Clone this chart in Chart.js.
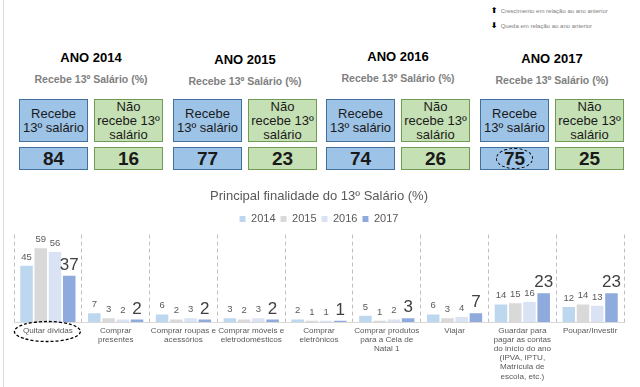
<!DOCTYPE html>
<html>
<head>
<meta charset="utf-8">
<script src="https://cdn.jsdelivr.net/npm/chart.js@4"></script>
<style>
body { margin: 0; background: #fff; font-family: "Liberation Sans", Arial, sans-serif; }
#page { position: relative; width: 640px; height: 387px; overflow: hidden; }
#borda { position: absolute; left: 3px; top: 0; width: 1px; height: 387px; background: #d9d9d9; }
.leg { position: absolute; left: 491px; font-size: 6px; color: #808080; white-space: nowrap; }
.leg b { font-family: "DejaVu Sans"; font-size: 8px; color: #000; margin-right: 3px; }
.ano { position: absolute; width: 160px; text-align: center; font-weight: bold; font-size: 13px; color: #000; }
.sub { position: absolute; width: 160px; text-align: center; font-weight: bold; font-size: 10.5px; color: #808080; }
.box { position: absolute; box-sizing: border-box; width: 69px; display: flex; align-items: center; justify-content: center; text-align: center; color: #1a1a1a; }
.txt { top: 99px; height: 43px; font-size: 13px; line-height: 14px; }
.num { top: 147px; height: 23px; font-size: 19px; font-weight: bold; }
.azul { background: #9dc3e6; border: 1px solid #41719c; }
.verde { background: #c5e0b4; border: 1px solid #6f9b55; }
.oval { border: 1.3px dashed #000; border-radius: 50%; padding: 0 7px; line-height: 19px; }
#myChart { position: absolute; left: 0; top: 185px; }
</style>
</head>
<body>
<div id="page">
  <div id="borda"></div>
  <div class="leg" style="top:6px"><b>⬆</b>Crescimento em relação ao ano anterior</div>
  <div class="leg" style="top:21px"><b>⬇</b>Queda em relação ao ano anterior</div>
  <div id="topo"></div>
  <canvas id="myChart" width="640" height="202"></canvas>
</div>
<script>
const anos = ['ANO 2014', 'ANO 2015', 'ANO 2016', 'ANO 2017'];
const recebe = [84, 77, 74, 75];
const naoRecebe = [16, 23, 26, 25];

const categorias = [
    ['Quitar dívidas'],
    ['Comprar', 'presentes'],
    ['Comprar roupas e', 'acessórios'],
    ['Comprar móveis e', 'eletrodomésticos'],
    ['Comprar', 'eletrônicos'],
    ['Comprar produtos', 'para a Ceia de', 'Natal 1'],
    ['Viajar'],
    ['Guardar para', 'pagar as contas', 'do início do ano', '(IPVA, IPTU,', 'Matrícula de', 'escola, etc.)'],
    ['Poupar/Investir']
];
const series = ['2014', '2015', '2016', '2017'];
const v2014 = [45, 7, 6, 3, 2, 5, 6, 14, 12];
const v2015 = [59, 3, 2, 2, 1, 1, 3, 15, 14];
const v2016 = [56, 2, 3, 3, 1, 2, 4, 16, 13];
const v2017 = [37, 2, 2, 2, 1, 3, 7, 23, 23];
const cores = ['#bdd7ee', '#d9d9d9', '#dae3f3', '#8faadc'];

// blocos do topo
const topo = document.getElementById('topo');
const inicio = [19, 173, 326, 480];
const anoY = [50, 52, 49, 51];
anos.forEach((a, i) => {
    const x = inicio[i];
    const centro = x + 72;
    topo.innerHTML +=
        '<div class="ano" style="left:' + (centro - 80) + 'px;top:' + anoY[i] + 'px">' + a + '</div>' +
        '<div class="sub" style="left:' + (centro - 80) + 'px;top:' + (anoY[i] + 23) + 'px">Recebe 13º Salário (%)</div>' +
        '<div class="box txt azul" style="left:' + x + 'px">Recebe<br>13º salário</div>' +
        '<div class="box txt verde" style="left:' + (x + 75) + 'px">Não<br>recebe 13º<br>salário</div>' +
        '<div class="box num azul" style="left:' + x + 'px">' + (i === 3 ? '<span class="oval">' + recebe[i] + '</span>' : recebe[i]) + '</div>' +
        '<div class="box num verde" style="left:' + (x + 75) + 'px">' + naoRecebe[i] + '</div>';
});

const rotulos = {
    id: 'rotulos',
    afterDatasetsDraw(chart) {
        const ctx = chart.ctx;
        chart.data.datasets.forEach((ds, i) => {
            const meta = chart.getDatasetMeta(i);
            const grande = i === 3;
            meta.data.forEach((bar, j) => {
                ctx.save();
                ctx.font = grande ? '17px "Liberation Sans"' : '9.5px "Liberation Sans"';
                ctx.fillStyle = grande ? '#404040' : '#595959';
                ctx.textAlign = 'center';
                ctx.textBaseline = 'bottom';
                ctx.fillText(ds.data[j], bar.x, bar.y - (grande ? 2 : 4));
                ctx.restore();
            });
        });
        // oval tracejado em volta de "Quitar dívidas"
        const x = chart.scales.x.getPixelForValue(0);
        ctx.save();
        ctx.setLineDash([3, 2]);
        ctx.lineWidth = 1.3;
        ctx.strokeStyle = '#000';
        ctx.beginPath();
        ctx.ellipse(x - 0.5, chart.chartArea.bottom + 9.5, 33, 10, 0, 0, Math.PI * 2);
        ctx.stroke();
        ctx.restore();
    }
};

const ctx = document.getElementById('myChart');
new Chart(ctx, {
    type: 'bar',
    data: {
        labels: categorias,
        datasets: [
            { label: series[0], data: v2014, backgroundColor: cores[0] },
            { label: series[1], data: v2015, backgroundColor: cores[1] },
            { label: series[2], data: v2016, backgroundColor: cores[2] },
            { label: series[3], data: v2017, backgroundColor: cores[3] }
        ]
    },
    options: {
        responsive: false,
        animation: false,
        layout: { padding: { left: 14, right: 16, top: 0, bottom: 0 } },
        datasets: { bar: { categoryPercentage: 0.84, barPercentage: 0.88 } },
        plugins: {
            title: {
                display: true,
                text: 'Principal finalidade do 13º Salário (%)',
                color: '#595959',
                font: { family: 'Liberation Sans', size: 13, weight: 'normal' },
                padding: { top: 4, bottom: 4 }
            },
            legend: {
                labels: {
                    boxWidth: 6, boxHeight: 6, padding: 5,
                    color: '#595959',
                    font: { family: 'Liberation Sans', size: 11 }
                }
            },
            tooltip: { enabled: false }
        },
        scales: {
            x: {
                grid: { color: '#bfbfbf', lineWidth: 1, drawTicks: false },
                border: { display: true, color: '#d9d9d9', dash: [4, 3] },
                ticks: {
                    autoSkip: false, maxRotation: 0, padding: 4,
                    color: '#595959',
                    font: { family: 'Liberation Sans', size: 8.1, lineHeight: 1.13 }
                },
                afterFit(scale) { scale.height = 65; }
            },
            y: { display: false, min: 0, max: 70 }
        }
    },
    plugins: [rotulos]
});
</script>
</body>
</html>
